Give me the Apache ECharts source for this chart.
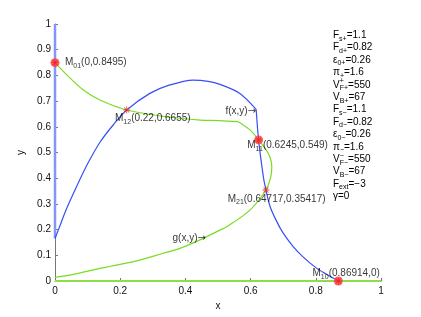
<!DOCTYPE html>
<html><head><meta charset="utf-8">
<script src="https://cdn.jsdelivr.net/npm/echarts/dist/echarts.min.js"></script>
<style>html,body{margin:0;padding:0;background:#fff}#c{width:421px;height:317px}</style>
</head><body><div id="c"></div>
<script>
// ---- data ----
const fWallX = [0, 0];
const fWallY = [0.166, 1];
const fRiseX = [0, 0.010, 0.036, 0.066, 0.100, 0.138, 0.179, 0.22, 0.291, 0.35, 0.424, 0.47, 0.506, 0.567, 0.617];
const fRiseY = [0.166, 0.198, 0.283, 0.367, 0.456, 0.540, 0.608, 0.6655, 0.730, 0.762, 0.782, 0.777, 0.765, 0.730, 0.668];
const fFallX = [0.617, 0.6245, 0.639, 0.64717, 0.66, 0.68, 0.70, 0.73, 0.76, 0.80, 0.833, 0.86914];
const fFallY = [0.668, 0.549, 0.406, 0.35417, 0.289, 0.232, 0.186, 0.135, 0.095, 0.052, 0.026, 0];
const gUpperX = [0, 0.04, 0.087, 0.138, 0.22, 0.343, 0.445, 0.506, 0.562];
const gUpperY = [0.8495, 0.797, 0.743, 0.704, 0.6655, 0.639, 0.626, 0.624, 0.620];
const gLoopX = [0.562, 0.598, 0.6245, 0.654, 0.665, 0.662, 0.64717, 0.598, 0.527, 0.506, 0.455, 0.383, 0.332, 0.25, 0.138, 0.06, 0];
const gLoopY = [0.620, 0.588, 0.549, 0.497, 0.445, 0.406, 0.35417, 0.276, 0.211, 0.198, 0.166, 0.127, 0.108, 0.078, 0.049, 0.027, 0.014];
const gBaseX = [0, 1];
const gBaseY = [0, 0];
const ptX = [0, 0.22, 0.6245, 0.64717, 0.86914];
const ptY = [0.8495, 0.6655, 0.549, 0.35417, 0];
const ptSub = ['01', '12', '11', '21', '10'];
const ptCircled = [true, false, true, false, true];
const annotX = [0.6166, 0.463];
const annotY = [0.6615, 0.1654];
const annotText = ['f(x,y)', 'g(x,y)'];
const paramLabels = ['F{s|s+}', 'F{s|d+}', '\u03b5{s|0+}', '\u03c0{s|+}', 'V{p|+}{s|F+}', 'V{s|B+}',
  'F{s|s\u2212}', 'F{s|d\u2212}', '\u03b5{s|0\u2212}', '\u03c0{s|\u2212}', 'V{p|\u2212}{s|F\u2212}', 'V{s|B\u2212}',
  'F{s|ext}', '\u03b3'];
const paramValues = [1.1, 0.82, 0.26, 1.6, 550, 67, 1.1, 0.82, 0.26, 1.6, 550, 67, -3, 0];
const xTickStep = 0.2;
const yTickStep = 0.1;

// ---- styling ----
const FONT = 'Liberation Sans, Arial, Helvetica, sans-serif';
const labelOffsets = [[6.5, 0], [-15.2, 8.5], [-14.8, 5.6], [-41.8, 9], [-29.3, -7.5]];
const asterisk = 'path://M0 4.4L10 4.4L10 5.6L0 5.6Z M5.6 0L5.6 10L4.4 10L4.4 0Z M1.88 1.04L8.96 8.12L8.12 8.96L1.04 1.88Z M8.96 1.88L1.88 8.96L1.04 8.12L8.12 1.04Z';
const subRich = { fontSize: 7, fontFamily: FONT, color: '#000', padding: [7, 0, 0, 0], lineHeight: 12 };
const SMOOTH = 0.3;

const zip = (xs, ys) => xs.map((x, i) => [x, ys[i]]);
const fmt = v => (v < 0 ? '\u2212' + (-v) : String(v));

const chart = echarts.init(document.getElementById('c'), null, { renderer: 'canvas' });
const axisCommon = {
  type: 'value', min: 0, max: 1,
  axisLine: { show: true, lineStyle: { color: '#777', width: 1 } },
  axisTick: { show: true, inside: true, length: 3, lineStyle: { color: '#777' } },
  splitLine: { show: false },
  axisLabel: { color: '#111', fontSize: 10, fontFamily: FONT },
  nameTextStyle: { color: '#111', fontSize: 10, fontFamily: FONT },
  nameLocation: 'middle'
};
const curve = (xs, ys, color, z, smooth, width) => ({
  type: 'line', data: zip(xs, ys), showSymbol: false, clip: false, smooth: smooth,
  lineStyle: { color: color, width: width }, z: z
});

chart.setOption({
  animation: false,
  backgroundColor: '#fff',
  grid: { left: 55, right: 40, top: 24, bottom: 36 },
  title: {
    text: paramLabels.map((l, i) => l + '=' + fmt(paramValues[i])).join('\n'),
    left: 333, top: 29, padding: 0,
    textStyle: {
      fontSize: 10, fontWeight: 'normal', fontFamily: FONT, color: '#000', lineHeight: 12.4,
      rich: {
        s: { fontSize: 7, fontFamily: FONT, color: '#000', padding: [7, 0, 0, 0], lineHeight: 12.4 },
        p: { fontSize: 7, fontFamily: FONT, color: '#000', padding: [0, 0, 7, 0], lineHeight: 12.4, width: 0.01, align: 'left' }
      }
    }
  },
  xAxis: Object.assign({}, axisCommon, { interval: xTickStep, name: 'x', nameGap: 15,
    axisLabel: Object.assign({}, axisCommon.axisLabel, { margin: 5 }) }),
  yAxis: Object.assign({}, axisCommon, { interval: yTickStep, name: 'y', nameGap: 12, nameRotate: 90,
    axisLabel: Object.assign({}, axisCommon.axisLabel, { margin: 4 }) }),
  series: [
    curve(gBaseX, gBaseY, '#8ede4a', 3, false, 2),
    curve(fWallX, fWallY, '#8595ff', 3, false, 2.5),
    curve(fRiseX, fRiseY, '#3650f5', 4, SMOOTH, 1.2),
    curve(fFallX, fFallY, '#3650f5', 4, SMOOTH, 1.2),
    curve(gUpperX, gUpperY, '#77dd22', 4, SMOOTH, 1.2),
    curve(gLoopX, gLoopY, '#77dd22', 4, SMOOTH, 1.2),
    { type: 'scatter', clip: false, z: 5,
      data: ptX.map((x, i) => ptCircled[i] ? [x, ptY[i]] : null).filter(d => d),
      symbol: 'circle', symbolSize: 9, itemStyle: { color: '#ff4d4d', opacity: 0.9 } },
    { type: 'scatter', clip: false, z: 6,
      data: ptX.map((x, i) => ({
        value: [x, ptY[i]],
        label: {
          show: true, position: 'right', distance: 0, offset: labelOffsets[i],
          formatter: 'M{s|' + ptSub[i] + '}(' + x + ',' + ptY[i] + ')',
          fontSize: 10, fontFamily: FONT, color: '#000', lineHeight: 12,
          rich: { s: subRich }
        }
      })),
      symbol: asterisk, symbolSize: 7, itemStyle: { color: '#e81e1e' } },
    { type: 'scatter', clip: false, z: 6, symbolSize: 0, silent: true,
      data: annotX.map((x, i) => ({
        value: [x, annotY[i]],
        label: { show: true, position: 'left', distance: 0, formatter: annotText[i] + '{a|\u2192}',
          fontSize: 10, fontFamily: FONT, color: '#000',
          rich: { a: { fontSize: 10, fontFamily: 'DejaVu Sans', color: '#000' } } }
      })) }
  ]
});
</script></body></html>
